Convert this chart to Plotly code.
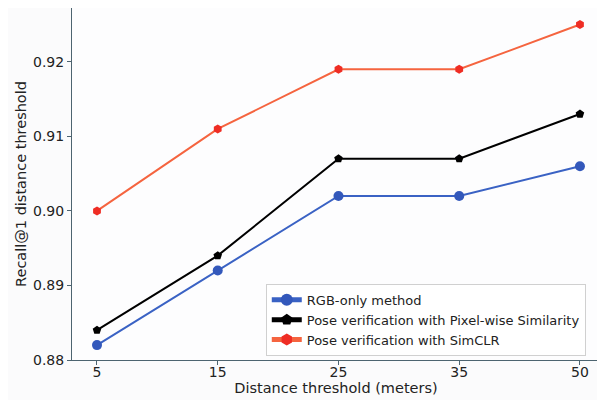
import plotly.graph_objects as go

categories = ["5", "15", "25", "35", "50"]
rgb_only = [0.882, 0.892, 0.902, 0.902, 0.906]
pixel_wise = [0.884, 0.894, 0.907, 0.907, 0.913]
simclr = [0.900, 0.911, 0.919, 0.919, 0.925]
y_ticks = [0.88, 0.89, 0.90, 0.91, 0.92]
y_tick_text = ["0.88", "0.89", "0.90", "0.91", "0.92"]

fig = go.Figure()
fig.add_trace(go.Scatter(x=categories, y=rgb_only, mode="lines+markers",
                         name="RGB-only method",
                         line=dict(color="#3a62c4", width=2),
                         marker=dict(symbol="circle", size=10, color="#3358bb")))
fig.add_trace(go.Scatter(x=categories, y=pixel_wise, mode="lines+markers",
                         name="Pose verification with Pixel-wise Similarity",
                         line=dict(color="#000000", width=2),
                         marker=dict(symbol="pentagon", size=9, color="#000000")))
fig.add_trace(go.Scatter(x=categories, y=simclr, mode="lines+markers",
                         name="Pose verification with SimCLR",
                         line=dict(color="#f5643f", width=2),
                         marker=dict(symbol="hexagon", size=9, color="#ef2d24")))

axis_common = dict(showline=True, linecolor="#4d6470", linewidth=1, mirror=True,
                   ticks="outside", ticklen=4, tickcolor="#4d6470",
                   showgrid=False, zeroline=False, automargin=False,
                   tickfont=dict(family="DejaVu Sans", size=14, color="#222222"))

fig.update_xaxes(type="category", range=[-0.207, 4.166], ticklabelstandoff=-5,
                 title=dict(text="Distance threshold (meters)", standoff=0,
                            font=dict(family="DejaVu Sans", size=14.5, color="#222222")),
                 **axis_common)
fig.update_yaxes(range=[0.88, 0.92722], tickvals=y_ticks, ticktext=y_tick_text,
                 title=dict(text="Recall@1 distance threshold", standoff=2,
                            font=dict(family="DejaVu Sans", size=14.5, color="#222222")),
                 **axis_common)

fig.update_layout(
    width=605, height=400,
    margin=dict(l=64, r=13, t=0, b=48, autoexpand=False),
    paper_bgcolor="#fbfbfc",
    plot_bgcolor="#fdfdfe",
    font=dict(family="DejaVu Sans", size=13, color="#222222"),
    legend=dict(x=0.367, y=0.012, xanchor="left", yanchor="bottom",
                bgcolor="rgba(255,255,255,0.9)", bordercolor="#d0d0d0", borderwidth=1,
                font=dict(family="DejaVu Sans", size=13, color="#222222"),
                tracegroupgap=0, itemsizing="constant"),
)

fig.write_html("out.html")
